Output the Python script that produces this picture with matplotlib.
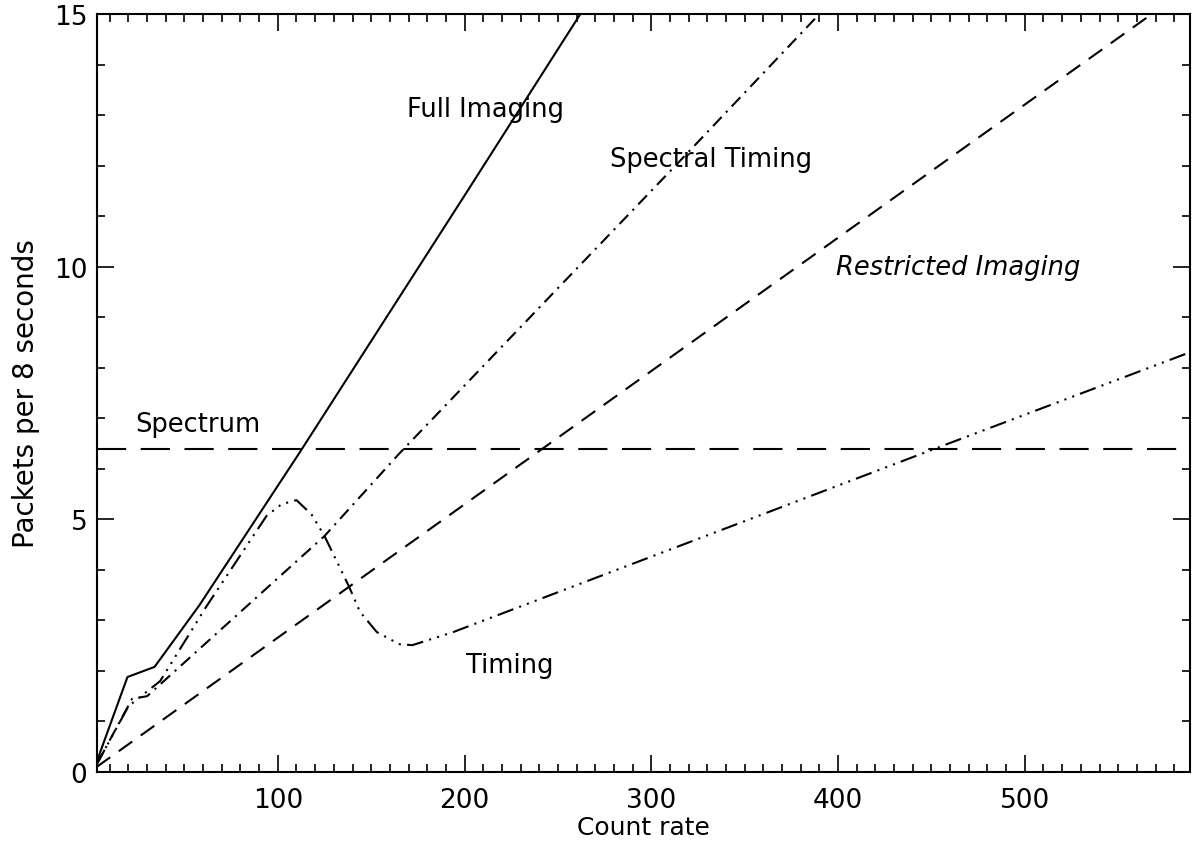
import matplotlib
matplotlib.use("Agg")
import matplotlib.pyplot as plt
from matplotlib.ticker import MultipleLocator

# curves (count rate, packets per 8 s)
full_x = [3, 19.5, 34, 58, 112, 199, 262]
full_y = [0.2, 1.88, 2.08, 3.3, 6.34, 11.35, 15.0]

spec_t_x = [3, 22, 30, 125, 165, 315, 390]
spec_t_y = [0.15, 1.45, 1.5, 4.67, 6.3, 12.08, 15.0]

restr_x = [3, 437, 568]
restr_y = [0.1, 11.55, 15.0]

timing_x = [3, 20, 37, 62, 94, 102, 110, 118, 125, 138, 144, 153, 165, 172, 194, 452, 588]
timing_y = [0.15, 1.3, 1.8, 3.29, 5.07, 5.3, 5.38, 5.1, 4.67, 3.68, 3.17, 2.77, 2.53, 2.51, 2.77, 6.4, 8.3]

spectrum_x = [3, 588]
spectrum_y = [6.4, 6.4]

labels = ["Full Imaging", "Spectral Timing", "Restricted Imaging", "Spectrum", "Timing"]
label_x = [169, 278, 399, 23.6, 201]
label_y = [13.13, 12.14, 10.0, 6.89, 2.12]

fig = plt.figure(figsize=(11.92, 8.45), dpi=100)
ax = fig.add_axes([0.0814, 0.0852, 0.917, 0.897])

lw = 1.5
ax.plot(full_x, full_y, color="black", lw=lw)
ax.plot(spec_t_x, spec_t_y, color="black", lw=lw, linestyle=(0, (6, 3, 1, 3)))
ax.plot(restr_x, restr_y, color="black", lw=lw, linestyle=(0, (8, 5)))
ax.plot(timing_x, timing_y, color="black", lw=lw, linestyle=(0, (8, 3, 1, 3, 1, 3, 1, 3)))
ax.plot(spectrum_x, spectrum_y, color="black", lw=lw, linestyle=(0, (14, 7)))

for i in range(len(labels)):
    style = "italic" if labels[i] == "Restricted Imaging" else "normal"
    ax.text(label_x[i], label_y[i], labels[i], fontsize=18.5, style=style,
            ha="left", va="center")

ax.set_xlim(3.2, 588.5)
ax.set_ylim(0, 15)
ax.xaxis.set_major_locator(MultipleLocator(100))
ax.xaxis.set_minor_locator(MultipleLocator(10))
ax.yaxis.set_major_locator(MultipleLocator(5))
ax.yaxis.set_minor_locator(MultipleLocator(1))
ax.tick_params(which="both", direction="in", top=True, right=True, width=1.2)
ax.tick_params(which="major", length=12, labelsize=19)
ax.tick_params(axis="x", which="major", pad=11)
ax.tick_params(axis="y", which="major", pad=7)
ax.tick_params(which="minor", length=6)
for s in ax.spines.values():
    s.set_linewidth(1.5)

ax.set_xlabel("Count rate", fontsize=18, labelpad=1)
ax.set_ylabel("Packets per 8 seconds", fontsize=20, labelpad=10)

fig.savefig("out.png", dpi=100)
